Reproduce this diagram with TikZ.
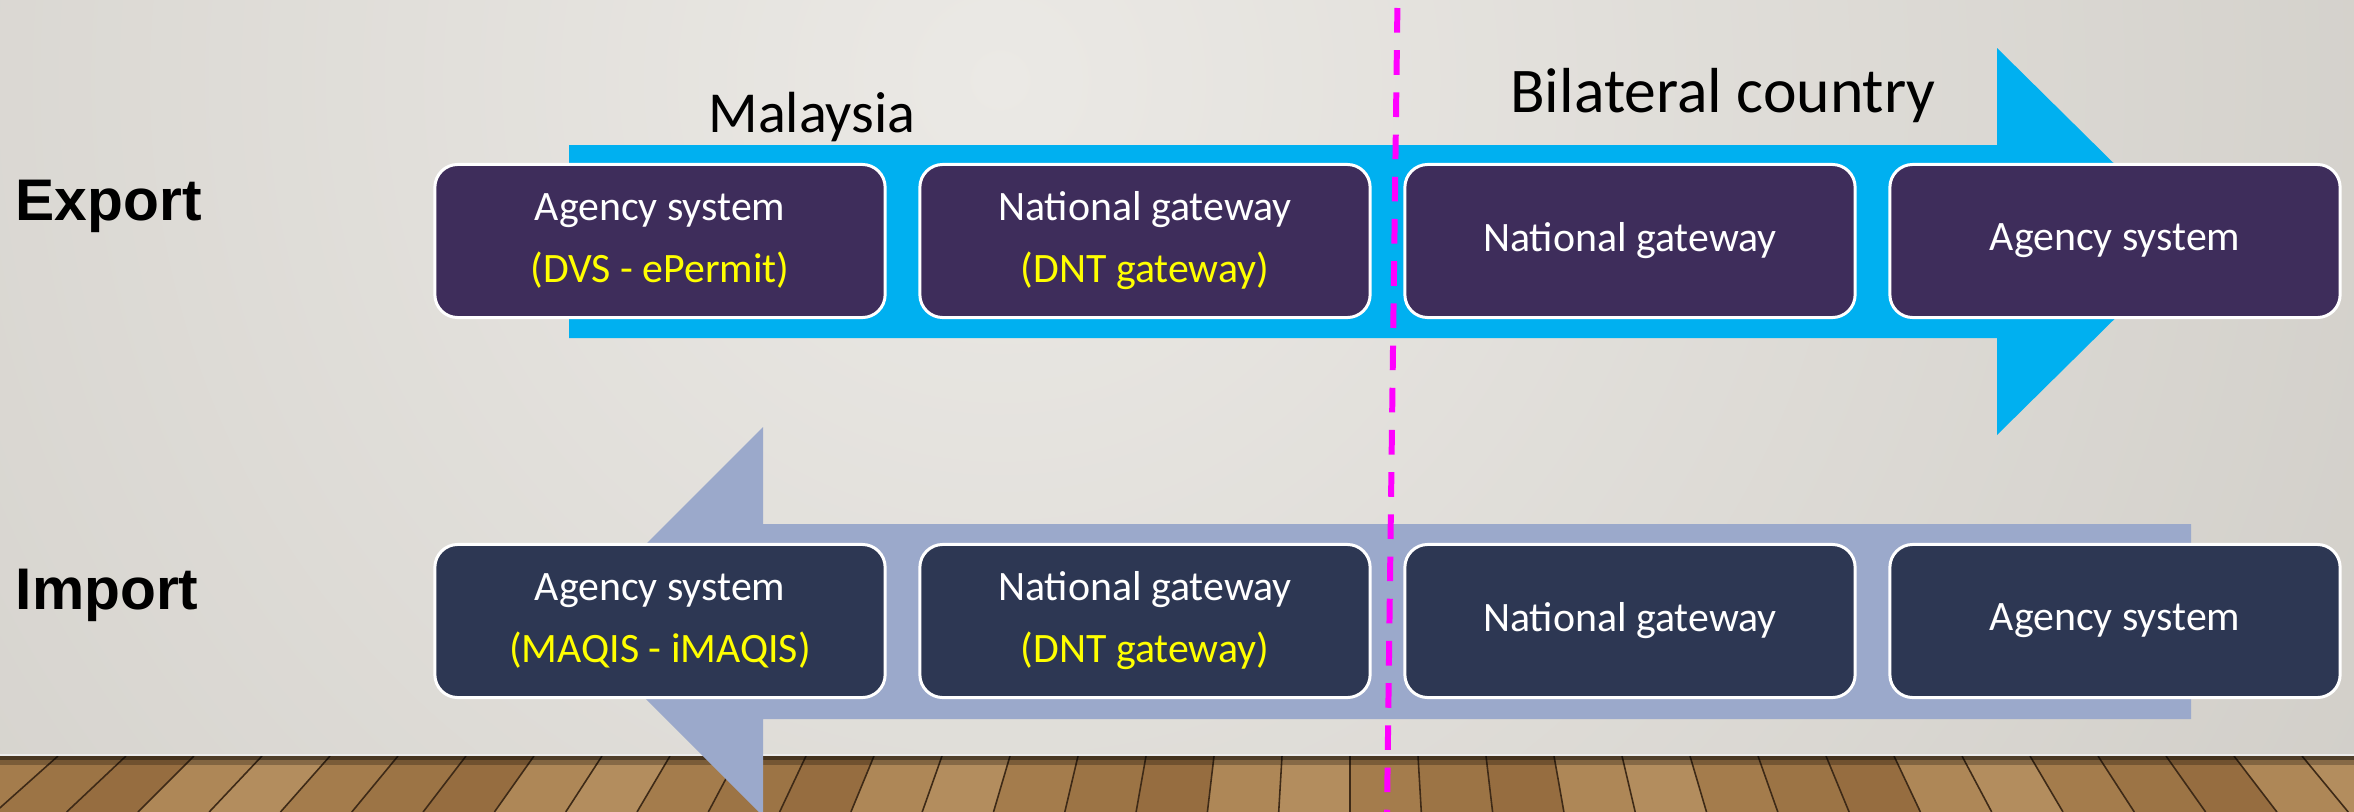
\documentclass[tikz,border=0pt]{standalone}
\usepackage{fontspec}
\setmainfont{Carlito}
\newfontfamily\labelfont{Liberation Sans}
\definecolor{expfill}{HTML}{3E2D5B}
\definecolor{impfill}{HTML}{2D3753}
\definecolor{exparrow}{HTML}{00B0F0}
\definecolor{imparrow}{HTML}{9BA9CB}
\definecolor{wallhi}{HTML}{EBE9E5}
\definecolor{walllo}{HTML}{CFCCC6}
\definecolor{plank0}{HTML}{A47C4C}
\definecolor{plank1}{HTML}{AE8757}
\definecolor{plank2}{HTML}{9C7445}
\definecolor{plank3}{HTML}{B38D5E}
\definecolor{plank4}{HTML}{966D40}
\definecolor{woodline}{HTML}{3E2A17}
\definecolor{pinkline}{HTML}{FF00FF}
\definecolor{yellowtext}{HTML}{FFFF00}
\begin{document}
\begin{tikzpicture}[x=0.01cm,y=-0.01cm,
  box/.style={draw=white, line width=0.85pt, rounded corners=6.5pt,
    minimum width=4.5cm, minimum height=1.53cm, align=center, text=white,
    inner sep=0pt, font=\fontsize{11.9}{17.6}\selectfont},
  expbox/.style={box, fill=expfill},
  impbox/.style={box, fill=impfill},
  sidelabel/.style={anchor=base west, inner sep=0pt,
    font=\labelfont\bfseries\fontsize{16.7}{20}\selectfont},
  region/.style={anchor=base, inner sep=0pt, text=black},
  divider/.style={pinkline, line width=1.7pt, dash pattern=on 7pt off 5pt}]
\useasboundingbox (0,0) rectangle (2354,812);
\clip (0,0) rectangle (2354,812);
% wall
\fill[walllo] (0,0) rectangle (2354,756);
\begin{scope}
  \clip (0,0) rectangle (2354,756);
  \shade[inner color=wallhi, outer color=walllo] (1000,80) circle [radius=17cm];
\end{scope}
% floor
\fill[plank0] (0,756) rectangle (2354,812);
\foreach \n in {-21,...,15} {
  \pgfmathsetmacro\a{1350+68*\n}
  \pgfmathsetmacro\b{1350+71.3*\n}
  \pgfmathsetmacro\c{1350+68*(\n+1)}
  \pgfmathsetmacro\d{1350+71.3*(\n+1)}
  \pgfmathtruncatemacro\s{mod(\n*37+1000,5)}
  \fill[plank\s] (\a,756) -- (\c,756) -- (\d,812) -- (\b,812) -- cycle;
  \draw[woodline, line width=0.45pt] (\a,756) -- (\b,812);
}
\fill[black, opacity=0.55] (0,756) rectangle (2354,760);
\fill[black, opacity=0.25] (0,760) rectangle (2354,765);
\draw[white!85!gray, line width=0.4pt] (0,755) -- (2354,755);
% arrows
\fill[exparrow] (569,145) -- (1997,145) -- (1997,48) -- (2193,241.5)
  -- (1997,435) -- (1997,338) -- (569,338) -- cycle;
\fill[imparrow] (2191,524) -- (763,524) -- (763,427) -- (568.5,621.5)
  -- (763,816) -- (763,719) -- (2191,719) -- cycle;
% divider
\coordinate (dtop) at (1397.4,8);
\coordinate (dbot) at (1387,812);
\draw[divider] (dtop) -- (dbot);
% labels
\node[sidelabel] (export) at (15,220) {Export};
\node[sidelabel] (import) at (15,609) {Import};
\node[region, font=\fontsize{16.5}{20}\selectfont] (malaysia) at (812,132) {Malaysia};
\node[region, font=\fontsize{18.1}{22}\selectfont] (bilateral) at (1723,112) {Bilateral country};
% export boxes
\node[expbox] (e1) at (660,241) {Agency system\\{\color{yellowtext}(DVS - ePermit)}};
\node[expbox] (e2) at (1145,241) {National gateway\\{\color{yellowtext}(DNT gateway)}};
\node[expbox] (e3) at (1630,241) {National gateway};
\node[expbox] (e4) at (2115,241) {Agency system};
% import boxes
\node[impbox] (i1) at (660,621) {Agency system\\{\color{yellowtext}(MAQIS - iMAQIS)}};
\node[impbox] (i2) at (1145,621) {National gateway\\{\color{yellowtext}(DNT gateway)}};
\node[impbox] (i3) at (1630,621) {National gateway};
\node[impbox] (i4) at (2115,621) {Agency system};
\end{tikzpicture}
\end{document}
